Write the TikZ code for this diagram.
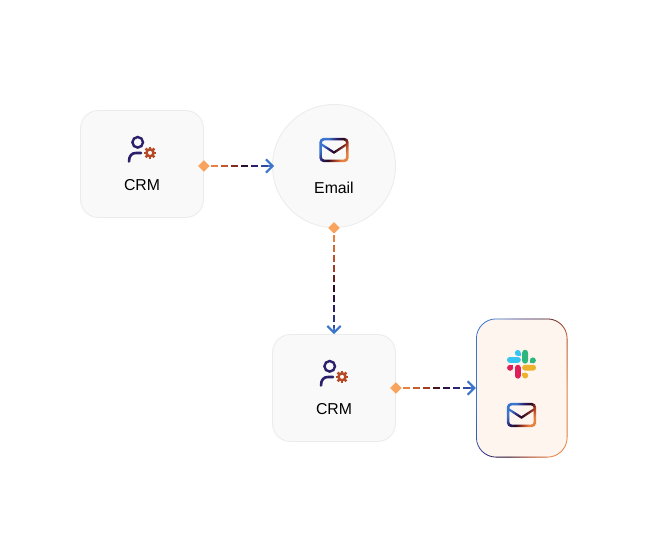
\documentclass[tikz,border=0pt]{standalone}
\usepackage{fontspec}
\setmainfont{Liberation Sans}
\usetikzlibrary{calc,arrows.meta,shapes.geometric}
\definecolor{g0}{HTML}{E8803F}
\definecolor{g1}{HTML}{A53C22}
\definecolor{g2}{HTML}{2A0A1F}
\definecolor{g3}{HTML}{2A1D6B}
\definecolor{g4}{HTML}{3B74CC}
\definecolor{cardfill}{HTML}{F9F9F9}
\definecolor{cardline}{HTML}{EBEBEB}
\definecolor{stackfill}{HTML}{FEF5EF}
\definecolor{diam}{HTML}{F9A45E}
\definecolor{navy}{HTML}{2C1F6B}
\definecolor{gearc}{HTML}{B54A26}
\definecolor{slackblue}{RGB}{54,197,240}
\definecolor{slackgreen}{RGB}{46,182,125}
\definecolor{slackred}{RGB}{224,30,90}
\definecolor{slackyellow}{RGB}{236,178,46}
\pgfdeclarehorizontalshading{brand}{100bp}{color(0bp)=(g4); color(30bp)=(g4); color(42bp)=(g3); color(52bp)=(g2); color(62bp)=(g1); color(72bp)=(g0); color(100bp)=(g0)}
\tikzset{
  card/.style={draw=cardline,fill=cardfill,line width=0.8pt,rounded corners=18pt,minimum width=123pt,minimum height=107pt,inner sep=0pt},
  round card/.style={draw=cardline,fill=cardfill,line width=0.8pt,circle,minimum size=123pt,inner sep=0pt},
  stack card/.style={fill=stackfill,rounded corners=20pt,minimum width=91.5pt,minimum height=139pt,inner sep=0pt},
  port/.style={diamond,fill=diam,minimum size=11.5pt,inner sep=0pt},
  caption/.style={font=\fontsize{15.8}{18}\selectfont,text=black,inner sep=0pt},
  brand shade/.style={even odd rule,shading=brand,shading angle=-35},
  stack shade/.style={even odd rule,shading=brand,shading angle=-14},
  dash piece/.style={line width=2.1pt},
  slack pill/.style={rounded corners=2.8pt},
}
% gradient dashed connector: from, to, number of dashes
\newcommand{\gradconn}[3]{%
  \pgfmathtruncatemacro\lastk{#3-1}%
  \foreach \k in {0,...,\lastk}{%
    \pgfmathsetmacro\sa{7.2+10*\k}%
    \pgfmathsetmacro\sb{\sa+6.5}%
    \pgfmathsetmacro\tt{100*\k/\lastk}%
    \pgfmathtruncatemacro\pa{\tt<33 ? \tt*100/33 : 0}%
    \pgfmathtruncatemacro\pb{(\tt>=33 && \tt<55) ? (\tt-33)*100/22 : 0}%
    \pgfmathtruncatemacro\pc{(\tt>=55 && \tt<80) ? (\tt-55)*100/25 : 0}%
    \pgfmathtruncatemacro\pd{\tt>=80 ? (\tt-80)*100/40 : 0}%
    \ifdim\tt pt<33pt\colorlet{dc}{g1!\pa!g0}\else
      \ifdim\tt pt<55pt\colorlet{dc}{g2!\pb!g1}\else
        \ifdim\tt pt<80pt\colorlet{dc}{g3!\pc!g2}\else
          \colorlet{dc}{g4!\pd!g3}\fi\fi\fi
    \draw[dash piece,dc] ($(#1)!\sa pt!(#2)$) -- ($(#1)!\sb pt!(#2)$);
  }%
  \draw[dash piece,g4,-{Straight Barb[length=6.6pt,width=13.4pt,line width=2.2pt]}] ($(#2)!6pt!(#1)$) -- (#2);
}
\newcommand{\mailicon}[2]{%
  \begin{scope}[shift={(#1,#2)}]
    \path[brand shade]
      [rounded corners=4.5pt] (-14.7,-12.2) rectangle (14.7,12.2)
      [rounded corners=2.8pt] (-12.2,-9.7) rectangle (12.2,9.7)
      [sharp corners] (-12.1,-6.6) -- (0,1.2) -- (12.1,-6.6) -- (12.1,-4.0) -- (0,3.9) -- (-12.1,-4.0) -- cycle;
  \end{scope}}
\newcommand{\personicon}[2]{%
  \begin{scope}[shift={(#1,#2)}]
    \draw[navy,line width=2.4pt] (137.7,142.3) circle[radius=5.3];
    \draw[navy,line width=2.6pt,line cap=round] (129,161.5) .. controls (129,155.5) and (132,153) .. (136,153) -- (141,153);
    \draw[gearc,line width=2.5pt] (150,152.8) circle[radius=3.5];
    \foreach \a in {0,45,...,315}{\draw[gearc,line width=2.5pt] ($(150,152.8)+(\a:3.8)$) -- ($(150,152.8)+(\a:6.2)$);}
  \end{scope}}
\begin{document}
\begin{tikzpicture}[x=1pt,y=-1pt]
\useasboundingbox (0,0) rectangle (648,548);
\fill[white] (0,0) rectangle (648,548);
% cards
\node[card] (crmA) at (142,164) {};
\node[round card] (email) at (334,166) {};
\node[card] (crmB) at (334,388) {};
\node[stack card] (stack) at (521.75,388) {};
\path[stack shade]
  [rounded corners=20pt] (476,318.5) rectangle (567.5,457.5)
  [rounded corners=19.2pt] (476.8,319.3) rectangle (566.7,456.7);
% labels
\node[caption] (crmAlabel) at (142,185) {CRM};
\node[caption] (emailLabel) at (334,187.5) {Email};
\node[caption] (crmBlabel) at (334,409) {CRM};
% icons
\personicon{0}{0}
\personicon{192}{224}
\mailicon{334}{150}
\mailicon{521.5}{415}
% slack logo
\fill[slack pill,slackblue] (507,357) rectangle (520.8,362.8);
\fill[slackblue] (517.8,353) circle[radius=3];
\fill[slackblue] (517.8,353) rectangle (520.8,356);
\fill[slack pill,slackgreen] (522.2,349.8) rectangle (528,363.6);
\fill[slackgreen] (532.9,360.4) circle[radius=3];
\fill[slackgreen] (529.9,360.4) rectangle (532.9,363.4);
\fill[slack pill,slackred] (515,364.8) rectangle (520.8,378.6);
\fill[slackred] (510.1,367.8) circle[radius=3];
\fill[slackred] (510.1,364.8) rectangle (513.1,367.8);
\fill[slack pill,slackyellow] (522.2,364.8) rectangle (536,370.6);
\fill[slackyellow] (525.2,375.5) circle[radius=3];
\fill[slackyellow] (522.2,372.5) rectangle (525.2,375.5);
% connector ends
\node[port] (portA) at ($(crmA.east)+(0,2)$) {};
\node[port] (portB) at (email.south) {};
\node[port] (portC) at (crmB.east) {};
\coordinate (endA) at ($(email.west)+(2,0)$);
\coordinate (endB) at (crmB.north);
\coordinate (endC) at (stack.west);
% connectors
\gradconn{portA.center}{endA}{6}
\gradconn{portB.center}{endB}{10}
\gradconn{portC.center}{endC}{7}
\end{tikzpicture}
\end{document}
